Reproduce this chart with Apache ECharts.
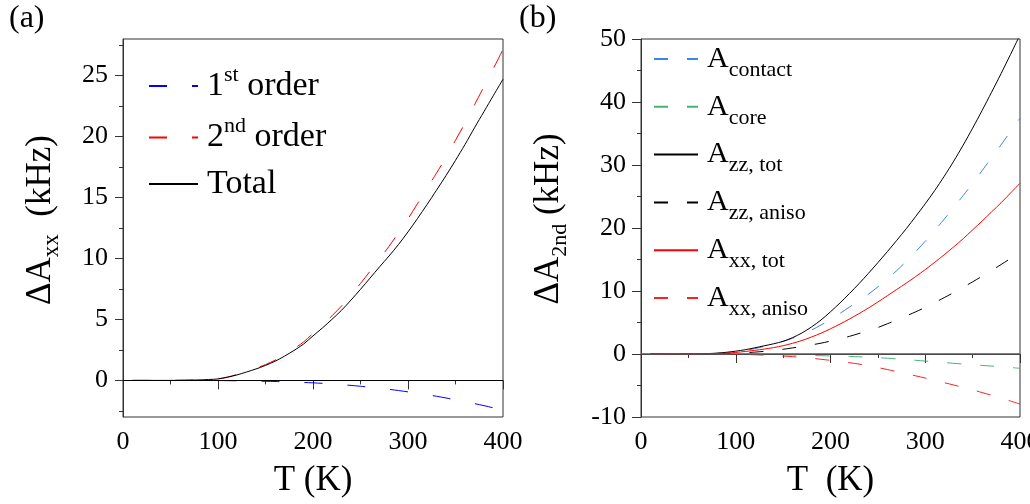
<!DOCTYPE html>
<html><head><meta charset="utf-8">
<script src="https://cdn.jsdelivr.net/npm/echarts@6/dist/echarts.min.js"></script>
<style>html,body{margin:0;padding:0;background:#fff}#c{width:1030px;height:504px}</style>
</head><body><div id="c"></div>
<script>
// Temperature grid (K)
const T = [10,20,30,40,50,60,70,80,90,100,110,120,130,140,150,160,170,180,190,200,
           210,220,230,240,250,260,270,280,290,300,310,320,330,340,350,360,370,380,390,400];

// Panel (a): ΔAxx (kHz)
const first = [0,0,0,0,0,0,0,0,-0.005,-0.01, -0.02,-0.03,-0.04,-0.06,-0.07,-0.09,-0.11,-0.14,-0.17,-0.2,
               -0.24,-0.29,-0.35,-0.41,-0.48,-0.56,-0.64,-0.73,-0.83,-0.94, -1.05,-1.17,-1.3,-1.44,-1.59,-1.74,-1.9,-2.07,-2.25,-2.44];
const second = [0,0,0,0,0.003,0.008,0.02,0.04,0.08,0.13, 0.28,0.48,0.73,1.0,1.3,1.66,2.1,2.6,3.15,3.85,
                4.55,5.3,6.1,7.0,7.95,8.95,9.95,11.0,12.1,13.25, 14.5,15.75,17.0,18.3,19.7,21.1,22.6,24.1,25.6,27.15];
const total = [0,0,0,0,0.003,0.008,0.02,0.04,0.075,0.12, 0.26,0.45,0.69,0.94,1.23,1.57,1.99,2.46,2.98,3.65,
               4.31,5.01,5.75,6.59,7.47,8.39,9.31,10.2,11.15,12.18, 13.28,14.42,15.6,16.8,18.05,19.35,20.72,22.05,23.38,24.7];

// Panel (b): ΔA2nd (kHz)
const contact = [0,0,0,0,0.005,0.02,0.05,0.1,0.2,0.35, 0.55,0.85,1.2,1.6,2.0,2.5,3.1,3.8,4.6,5.5,
                 6.45,7.45,8.45,9.5,10.65,11.9,13.25,14.7,16.25,17.9, 19.6,21.4,23.25,25.15,27.1,29.1,31.15,33.2,35.3,37.45];
const core = [0,0,0,0,0,0,0,-0.005,-0.01,-0.02, -0.03,-0.05,-0.07,-0.1,-0.13,-0.16,-0.19,-0.23,-0.27,-0.31,
              -0.35,-0.4,-0.45,-0.51,-0.58,-0.67,-0.77,-0.88,-1.0,-1.12, -1.24,-1.36,-1.48,-1.59,-1.7,-1.81,-1.92,-2.03,-2.15,-2.27];
const zzTot = [0,0,0,0,0.005,0.02,0.06,0.14,0.27,0.45, 0.68,0.98,1.3,1.62,2.02,2.6,3.35,4.3,5.4,6.7,
               8.1,9.6,11.15,12.8,14.5,16.25,18.05,19.9,21.85,23.85, 25.95,28.2,30.6,33.15,35.85,38.65,41.55,44.5,47.55,50.65];
const zzAniso = [0,0,0,0,0,0,0.01,0.03,0.06,0.12, 0.2,0.3,0.42,0.57,0.75,0.97,1.2,1.45,1.72,2.05,
                 2.4,2.8,3.25,3.7,4.2,4.8,5.4,6.05,6.7,7.4, 8.15,8.95,9.75,10.6,11.45,12.35,13.25,14.2,15.15,16.1];
const xxTot = [0,0,0,0,0,0.01,0.02,0.06,0.13,0.25, 0.4,0.58,0.78,1.02,1.32,1.7,2.15,2.7,3.3,4.0,
               4.75,5.55,6.4,7.3,8.25,9.25,10.25,11.25,12.3,13.4, 14.55,15.75,17.0,18.3,19.7,21.1,22.55,24.0,25.55,27.1];
const xxAniso = [0,0,0,0,0,0,-0.005,-0.01,-0.02,-0.03, -0.07,-0.12,-0.18,-0.25,-0.33,-0.42,-0.54,-0.68,-0.84,-1.01,
                 -1.19,-1.38,-1.6,-1.86,-2.15,-2.47,-2.8,-3.13,-3.47,-3.82, -4.18,-4.55,-4.92,-5.3,-5.7,-6.12,-6.55,-7.0,-7.47,-7.95];

// Axis ticks
const yTicksA = [0,5,10,15,20,25];
const yMinorA = [-2.5,2.5,7.5,12.5,17.5,22.5,27.5];

const FONT = "Liberation Serif";
const pairs = arr => T.map((t, i) => [t, arr[i]]);

const chart = echarts.init(document.getElementById('c'), null, {renderer: 'canvas'});

const axisCol = '#333';
const zeroLine = (color, width) => ({
  silent: true, symbol: ['none', 'none'], label: {show: false},
  lineStyle: {color: color, width: width, type: 'solid'},
  emphasis: {disabled: true},
  data: [{yAxis: 0}]
});

function lineSeries(name, data, color, dash, xi, yi, extra) {
  return Object.assign({
    name: name, type: 'line', xAxisIndex: xi, yAxisIndex: yi,
    data: pairs(data), symbol: 'none', showSymbol: false, smooth: 0.3,
    lineStyle: {color: color, width: 1, type: dash || 'solid'},
    itemStyle: {color: color},
    emphasis: {disabled: true}
  }, extra || {});
}

const xAxisCommon = (gi) => ({
  type: 'value', gridIndex: gi, min: 0, max: 400, interval: 100,
  axisLine: {show: true, lineStyle: {color: axisCol, width: 1}},
  axisTick: {show: true, inside: false, length: 9, lineStyle: {color: axisCol}},
  minorTick: {show: true, splitNumber: 2, length: 4, lineStyle: {color: axisCol}},
  splitLine: {show: false},
  axisLabel: {fontFamily: FONT, fontSize: 26, color: '#000', margin: 12},
  nameLocation: 'middle', nameMoveOverlap: false,
  nameTextStyle: {fontFamily: FONT, fontSize: 35, color: '#000'},
  nameGap: 46
});

const legendRichA = {
  f: {fontFamily: FONT, fontSize: 34, color: '#000', lineHeight: 44, padding: [0,0,0,4]},
  m: {fontFamily: FONT, fontSize: 34, color: '#000', lineHeight: 44},
  sup: {fontFamily: FONT, fontSize: 22, color: '#000', lineHeight: 22, verticalAlign: 'top'}
};
const legendRichB = {
  a: {fontFamily: FONT, fontSize: 30, color: '#000', lineHeight: 44, padding: [0,0,0,4]},
  sub: {fontFamily: FONT, fontSize: 22, color: '#000', lineHeight: 21, verticalAlign: 'bottom'}
};
const legendLabelsA = {'1st order': '{f|1}{sup|st}{m| order}', '2nd order': '{f|2}{sup|nd}{m| order}', 'Total': '{f|Total}'};
const namesB = ['contact', 'core', 'zz, tot', 'zz, aniso', 'xx, tot', 'xx, aniso'];
const hideSymbol = {color: 'rgba(0,0,0,0)', borderWidth: 0, opacity: 0};

const option = {
  animation: false,
  backgroundColor: '#fff',
  title: [
    {text: '(a)', left: 9, top: 3, padding: 0, textStyle: {fontFamily: FONT, fontSize: 32, fontWeight: 'normal', color: '#000'}},
    {text: '(b)', left: 519, top: 3, padding: 0, textStyle: {fontFamily: FONT, fontSize: 32, fontWeight: 'normal', color: '#000'}}
  ],
  grid: [
    {left: 123, right: 527, top: 39, bottom: 87, show: true, borderColor: axisCol, borderWidth: 1, backgroundColor: 'transparent', outerBoundsMode: 'none', containLabel: false},
    {left: 641, right: 10, top: 39, bottom: 87, show: true, borderColor: axisCol, borderWidth: 1, backgroundColor: 'transparent', outerBoundsMode: 'none', containLabel: false}
  ],
  xAxis: [
    Object.assign(xAxisCommon(0), {name: 'T (K)'}),
    Object.assign(xAxisCommon(1), {name: 'T  (K)'})
  ],
  yAxis: [
    {
      type: 'value', gridIndex: 0, min: -3, max: 28, position: 'left',
      axisLine: {show: true, lineStyle: {color: axisCol, width: 1}},
      axisTick: {show: true, inside: false, length: 8, customValues: yTicksA, lineStyle: {color: axisCol}},
      axisLabel: {fontFamily: FONT, fontSize: 26, color: '#000', margin: 15, customValues: yTicksA},
      splitLine: {show: false},
      name: '{d|ΔA}{s|xx}{d|  (kHz)}', nameLocation: 'middle', nameGap: 60, nameMoveOverlap: false,
      nameTextStyle: {padding: [0,0,0,16], rich: {
        d: {fontFamily: FONT, fontSize: 35, color: '#000', lineHeight: 44},
        s: {fontFamily: FONT, fontSize: 23, color: '#000', lineHeight: 20, verticalAlign: 'bottom'}
      }}
    },
    {
      type: 'value', gridIndex: 0, min: -3, max: 28, position: 'left', offset: 0,
      axisLine: {show: false},
      axisTick: {show: true, inside: false, length: 4, customValues: yMinorA, lineStyle: {color: axisCol}},
      axisLabel: {show: false},
      splitLine: {show: false}
    },
    {
      type: 'value', gridIndex: 1, min: -10, max: 50, interval: 10, position: 'left',
      axisLine: {show: true, lineStyle: {color: axisCol, width: 1}},
      axisTick: {show: true, inside: false, length: 9, lineStyle: {color: axisCol}},
      minorTick: {show: true, splitNumber: 2, length: 4, lineStyle: {color: axisCol}},
      axisLabel: {fontFamily: FONT, fontSize: 26, color: '#000', margin: 15},
      splitLine: {show: false},
      name: '{d|ΔA}{s|2nd}{d| (kHz)}', nameLocation: 'middle', nameGap: 70, nameMoveOverlap: false,
      nameTextStyle: {padding: [0,0,0,18], rich: {
        d: {fontFamily: FONT, fontSize: 35, color: '#000', lineHeight: 44},
        s: {fontFamily: FONT, fontSize: 22, color: '#000', lineHeight: 20, verticalAlign: 'bottom'}
      }}
    }
  ],
  legend: [
    {
      orient: 'vertical', left: 148, top: 64, itemWidth: 49, itemHeight: 14, itemGap: 12.5,
      selectedMode: false, padding: 0, itemStyle: hideSymbol,
      data: ['1st order', '2nd order', 'Total'],
      formatter: n => legendLabelsA[n],
      textStyle: {fontFamily: FONT, fontSize: 34, color: '#000', rich: legendRichA}
    },
    {
      orient: 'vertical', left: 653, top: 44, itemWidth: 44, itemHeight: 14, itemGap: 10.8,
      selectedMode: false, padding: 0, itemStyle: hideSymbol,
      data: namesB.map(s => 'A_' + s),
      formatter: n => '{a|A}{sub|' + n.slice(2) + '}',
      textStyle: {fontFamily: FONT, fontSize: 30, color: '#000', rich: legendRichB}
    }
  ],
  series: [
    lineSeries('1st order', first, '#0000ff', [18,25], 0, 0, {markLine: zeroLine('#000', 1)}),
    lineSeries('2nd order', second, '#ff0000', [18,25], 0, 0),
    lineSeries('Total', total, '#000000', 'solid', 0, 0),
    lineSeries('A_contact', contact, '#3a86e6', [14,19], 1, 2, {markLine: zeroLine('#555', 1.5)}),
    lineSeries('A_core', core, '#44b472', [14,19], 1, 2),
    lineSeries('A_zz, tot', zzTot, '#000000', 'solid', 1, 2),
    lineSeries('A_zz, aniso', zzAniso, '#000000', [14,19], 1, 2),
    lineSeries('A_xx, tot', xxTot, '#ff0000', 'solid', 1, 2),
    lineSeries('A_xx, aniso', xxAniso, '#ff2020', [14,19], 1, 2)
  ]
};
chart.setOption(option);
</script>
</body></html>
